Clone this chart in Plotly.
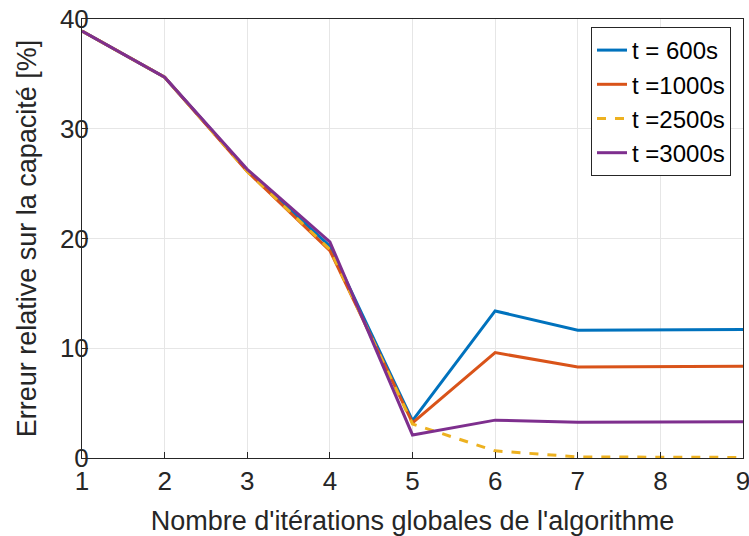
import plotly.graph_objects as go

iterations = [1, 2, 3, 4, 5, 6, 7, 8, 9]
err_600 = [38.9, 34.7, 26.2, 19.3, 3.4, 13.4, 11.65, 11.7, 11.7]
err_1000 = [38.9, 34.7, 26.1, 18.9, 3.2, 9.6, 8.3, 8.35, 8.35]
err_2500 = [38.9, 34.7, 26.1, 19.0, 3.1, 0.65, 0.1, 0.05, 0.05]
err_3000 = [38.9, 34.7, 26.3, 19.7, 2.1, 3.45, 3.25, 3.3, 3.3]
names = ["t = 600s", "t =1000s", "t =2500s", "t =3000s"]
colors = ["#0072BD", "#D95319", "#EDB120", "#7E2F8E"]
dashes = ["solid", "solid", "dash", "solid"]
series = [err_600, err_1000, err_2500, err_3000]

fig = go.Figure()
for ys, n, c, d in zip(series, names, colors, dashes):
    fig.add_trace(go.Scatter(x=iterations, y=ys, mode="lines", name=n,
                             line=dict(color=c, width=3, dash=d)))

font = "Liberation Sans, Arial, sans-serif"
axis_common = dict(showline=True, mirror=True, linecolor="#262626", linewidth=1,
                   ticks="inside", ticklen=6, tickcolor="#262626", automargin=False,
                   showgrid=True, gridcolor="#e6e6e6", gridwidth=1,
                   zeroline=False, tickfont=dict(size=26, color="#262626", family=font),
                   title_font=dict(size=27, color="#262626", family=font))

W, H = 749, 536
fig.update_layout(
    width=W, height=H,
    margin=dict(l=82, r=6, t=19, b=78),
    paper_bgcolor="white", plot_bgcolor="white",
    font=dict(family=font),
    xaxis=dict(range=[1, 9], tickvals=iterations, ticklabeloverflow="allow",
               title=dict(text="Nombre d'itérations globales de l'algorithme", standoff=16), **axis_common),
    yaxis=dict(range=[0, 40], tickvals=[0, 10, 20, 30, 40], ticklabelstandoff=-13,
               title=dict(text="Erreur relative sur la capacité [%]", standoff=15), **axis_common),
    legend=dict(x=(591 - 82) / 661, y=(458 - 27) / 439, xanchor="left", yanchor="top",
                bordercolor="#262626", borderwidth=1, bgcolor="white",
                font=dict(size=24, color="black", family=font),
                tracegroupgap=0),
    showlegend=True,
)

# remove the browser's default 8px body margin so the figure sits at the page corner
fig.write_html("out.html", config={"displayModeBar": False},
               post_script="document.body.style.margin='0';")
